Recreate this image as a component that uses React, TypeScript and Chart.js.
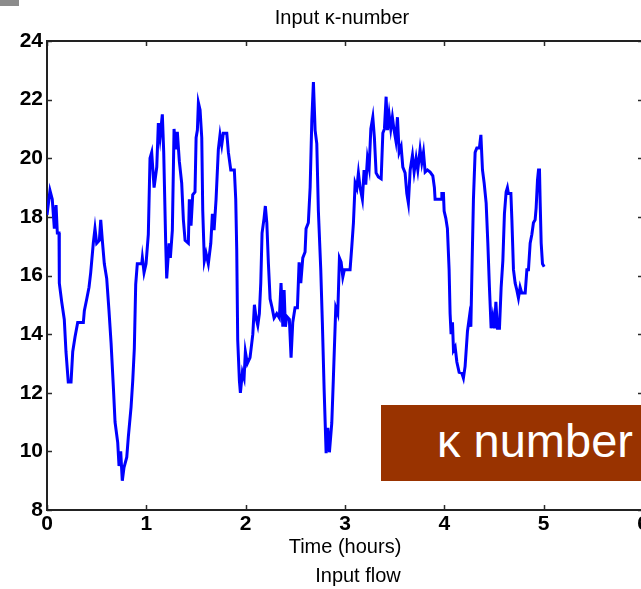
import React, { useEffect, useRef } from "react";
import { Chart, registerables } from "chart.js";

Chart.register(...registerables);

// Time (hours)
const timeHours = [
  0.000, 0.030, 0.053, 0.074, 0.091, 0.104, 0.121, 0.124, 0.148, 0.174,
  0.191, 0.214, 0.242, 0.259, 0.282, 0.309, 0.366, 0.376, 0.400, 0.423,
  0.440, 0.466, 0.483, 0.500, 0.527, 0.541, 0.557, 0.577, 0.601, 0.624,
  0.645, 0.668, 0.685, 0.712, 0.725, 0.742, 0.758, 0.775, 0.803, 0.819,
  0.846, 0.863, 0.879, 0.893, 0.909, 0.954, 0.960, 0.977, 0.997, 1.020,
  1.037, 1.054, 1.078, 1.105, 1.121, 1.138, 1.161, 1.175, 1.195, 1.205,
  1.229, 1.242, 1.262, 1.279, 1.296, 1.312, 1.332, 1.356, 1.373, 1.390,
  1.423, 1.433, 1.450, 1.467, 1.490, 1.501, 1.514, 1.524, 1.541, 1.558,
  1.568, 1.584, 1.601, 1.624, 1.649, 1.665, 1.682, 1.702, 1.725, 1.742,
  1.759, 1.775, 1.810, 1.826, 1.850, 1.886, 1.900, 1.910, 1.920, 1.937,
  1.947, 1.967, 1.984, 1.997, 2.017, 2.044, 2.072, 2.088, 2.105, 2.122,
  2.138, 2.152, 2.165, 2.185, 2.198, 2.213, 2.229, 2.246, 2.266, 2.286,
  2.313, 2.339, 2.356, 2.374, 2.387, 2.400, 2.414, 2.440, 2.457, 2.474,
  2.497, 2.521, 2.538, 2.555, 2.575, 2.598, 2.608, 2.631, 2.649, 2.666,
  2.682, 2.699, 2.716, 2.732, 2.756, 2.772, 2.790, 2.810, 2.827, 2.843,
  2.867, 2.883, 2.907, 2.927, 2.944, 2.961, 2.978, 2.994, 3.051, 3.068,
  3.085, 3.102, 3.119, 3.135, 3.152, 3.175, 3.192, 3.209, 3.226, 3.243,
  3.260, 3.280, 3.296, 3.313, 3.336, 3.364, 3.381, 3.397, 3.414, 3.427,
  3.444, 3.461, 3.477, 3.494, 3.512, 3.528, 3.545, 3.565, 3.582, 3.605,
  3.622, 3.638, 3.656, 3.679, 3.696, 3.716, 3.733, 3.756, 3.773, 3.790,
  3.807, 3.830, 3.857, 3.884, 3.900, 3.907, 3.968, 3.975, 3.991, 3.998,
  4.015, 4.031, 4.048, 4.058, 4.068, 4.082, 4.092, 4.109, 4.126, 4.149,
  4.176, 4.192, 4.209, 4.233, 4.253, 4.267, 4.280, 4.293, 4.310, 4.327,
  4.353, 4.368, 4.384, 4.401, 4.421, 4.438, 4.454, 4.471, 4.488, 4.505,
  4.519, 4.535, 4.555, 4.572, 4.589, 4.605, 4.622, 4.635, 4.645, 4.670,
  4.680, 4.696, 4.713, 4.730, 4.746, 4.763, 4.780, 4.814, 4.831, 4.847,
  4.864, 4.881, 4.897, 4.914, 4.924, 4.938, 4.948, 4.958, 4.965, 4.975,
  4.988, 5.005,
];

// Input kappa-number
const kappa = [
  18.06, 18.90, 18.60, 17.60, 18.40, 17.45, 17.45, 15.74, 15.10, 14.50,
  13.40, 12.37, 12.37, 13.40, 13.90, 14.40, 14.40, 14.80, 15.20, 15.60,
  16.10, 17.10, 17.60, 17.10, 17.20, 17.90, 17.20, 16.40, 15.90, 14.80,
  13.70, 12.20, 11.00, 10.30, 9.50, 10.00, 9.00, 9.45, 9.80, 10.50,
  11.50, 12.40, 13.50, 15.70, 16.40, 16.40, 16.60, 16.10, 16.40, 17.40,
  20.00, 20.20, 19.00, 19.70, 21.20, 20.70, 21.50, 20.20, 17.10, 15.90,
  17.10, 16.60, 17.55, 21.00, 20.30, 20.90, 19.90, 19.15, 17.90, 17.20,
  17.10, 18.60, 17.70, 18.75, 18.85, 20.70, 20.96, 21.90, 21.65, 20.70,
  18.20, 16.50, 16.76, 16.40, 17.10, 18.10, 17.55, 18.60, 20.30, 20.80,
  20.45, 20.85, 20.85, 20.20, 19.60, 19.60, 18.60, 16.90, 13.80, 12.40,
  12.00, 12.70, 12.50, 13.40, 13.00, 13.20, 14.00, 15.00, 14.55, 14.30,
  14.70, 15.74, 17.45, 17.95, 18.37, 17.80, 16.40, 15.20, 14.90, 14.55,
  14.70, 14.55, 15.74, 14.25, 15.50, 14.25, 14.60, 14.50, 13.20, 14.40,
  14.90, 14.90, 16.45, 15.74, 16.60, 16.80, 17.60, 17.80, 19.00, 21.30,
  22.60, 20.96, 20.50, 18.20, 16.20, 14.40, 12.10, 9.94, 10.80, 9.97,
  10.97, 12.50, 14.90, 14.70, 16.60, 16.46, 15.95, 16.20, 16.20, 16.97,
  17.80, 19.15, 18.98, 19.50, 19.00, 18.60, 19.60, 19.10, 20.00, 19.67,
  21.00, 21.40, 20.70, 19.50, 19.36, 19.30, 20.86, 21.00, 22.10, 20.96,
  21.50, 21.00, 21.40, 20.96, 20.60, 21.40, 20.20, 20.40, 19.70, 19.50,
  18.80, 18.47, 19.60, 20.10, 19.53, 20.00, 19.60, 20.30, 19.85, 20.20,
  19.53, 19.60, 19.53, 19.40, 19.00, 18.60, 18.60, 18.80, 18.80, 18.20,
  17.95, 17.60, 16.20, 14.70, 14.00, 14.40, 13.45, 13.56, 13.05, 12.70,
  12.67, 12.50, 12.90, 14.10, 14.60, 14.25, 16.50, 18.60, 20.20, 20.35,
  20.35, 20.80, 19.60, 19.15, 18.47, 17.10, 15.60, 14.20, 14.60, 14.20,
  15.10, 14.20, 14.20, 15.60, 16.50, 18.10, 18.85, 19.00, 18.80, 18.80,
  17.90, 16.20, 15.74, 15.50, 15.23, 15.60, 15.40, 15.40, 16.20, 16.20,
  17.10, 17.40, 17.80, 17.90, 18.30, 19.26, 19.60, 19.60, 18.47, 17.10,
  16.40, 16.30,
];

const xTicks = [0, 1, 2, 3, 4, 5, 6];
const yTicks = [8, 10, 12, 14, 16, 18, 20, 22, 24];
const titleText = "Input \u03BA-number";
const xLabelText = "Time (hours)";
const subLabelText = "Input flow";
const overlayText = "\u03BA number";

const FONT = "'Liberation Sans', Arial, Helvetica, sans-serif";

export default function App() {
  const ref = useRef<HTMLCanvasElement | null>(null);

  useEffect(() => {
    if (!ref.current) return;
    const framePlugin = {
      id: "matlabFrame",
      beforeDatasetsDraw(chart: any) {
        const { ctx, chartArea: a, scales } = chart;
        ctx.save();
        ctx.strokeStyle = "#2a2a2a";
        ctx.lineWidth = 1.5;
        const tl = 5;
        ctx.beginPath();
        xTicks.forEach((v) => {
          const px = Math.round(scales.x.getPixelForValue(v)) + 0.5;
          ctx.moveTo(px, a.bottom);
          ctx.lineTo(px, a.bottom - tl);
          ctx.moveTo(px, a.top);
          ctx.lineTo(px, a.top + tl);
        });
        yTicks.forEach((v) => {
          const py = Math.round(scales.y.getPixelForValue(v)) + 0.5;
          ctx.moveTo(a.left, py);
          ctx.lineTo(a.left + tl, py);
          ctx.moveTo(a.right, py);
          ctx.lineTo(a.right - tl, py);
        });
        ctx.stroke();
        ctx.lineWidth = 2;
        ctx.strokeStyle = "#222";
        ctx.strokeRect(a.left, a.top, a.right - a.left, a.bottom - a.top);
        ctx.restore();
      },
      afterDraw(chart: any) {
        const { ctx, chartArea: a } = chart;
        const cx = (a.left + a.right) / 2;
        ctx.save();
        ctx.fillStyle = "#000";
        ctx.textAlign = "center";
        ctx.textBaseline = "middle";
        ctx.font = `20px ${FONT}`;
        ctx.fillText(titleText, cx - 3, 18);
        ctx.fillText(xLabelText, cx, 547);
        ctx.fillText(subLabelText, cx + 13, 576);
        ctx.restore();
      },
    };

    const chart = new Chart(ref.current, {
      type: "line",
      data: {
        datasets: [
          {
            data: timeHours.map((t, i) => ({ x: t, y: kappa[i] })),
            borderColor: "#0000ff",
            borderWidth: 3,
            pointRadius: 0,
            tension: 0,
            fill: false,
          },
        ],
      },
      options: {
        animation: false,
        responsive: false,
        layout: { padding: { left: 0, top: 41, right: 17, bottom: 0 } },
        plugins: { legend: { display: false }, tooltip: { enabled: false }, title: { display: false } },
        scales: {
          x: {
            type: "linear",
            min: 0,
            max: 6,
            afterBuildTicks: (s: any) => {
              s.ticks = xTicks.map((v) => ({ value: v }));
            },
            afterFit: (s: any) => {
              s.height = 79;
            },
            grid: { display: false, drawTicks: false },
            border: { display: false },
            ticks: {
              padding: 2,
              color: "#000",
              font: { family: FONT, size: 21, weight: "bold" },
              maxRotation: 0,
              autoSkip: false,
            },
          },
          y: {
            type: "linear",
            min: 8,
            max: 24,
            afterBuildTicks: (s: any) => {
              s.ticks = yTicks.map((v) => ({ value: v }));
            },
            afterFit: (s: any) => {
              s.width = 47;
            },
            grid: { display: false, drawTicks: false },
            border: { display: false },
            ticks: {
              padding: 4,
              color: "#000",
              font: { family: FONT, size: 21, weight: "bold" },
              autoSkip: false,
            },
          },
        },
      },
      plugins: [framePlugin],
    } as any);
    return () => chart.destroy();
  }, []);

  return (
    <div
      style={{
        position: "fixed",
        left: 0,
        top: 0,
        width: 641,
        height: 589,
        overflow: "hidden",
        background: "#fff",
      }}
    >
      <canvas ref={ref} width={660} height={589} style={{ position: "absolute", left: 0, top: 0 }} />
      <div style={{ position: "absolute", left: 0, top: 0, width: 19, height: 6, background: "#8c8c8c" }} />
      <div
        style={{
          position: "absolute",
          left: 381,
          top: 405,
          width: 270,
          height: 76,
          background: "#993300",
        }}
      >
        <span
          style={{
            position: "absolute",
            left: 56,
            top: 8,
            color: "#fff",
            font: `47px ${FONT}`,
            lineHeight: "56px",
            whiteSpace: "nowrap",
          }}
        >
          {overlayText}
        </span>
      </div>
    </div>
  );
}
